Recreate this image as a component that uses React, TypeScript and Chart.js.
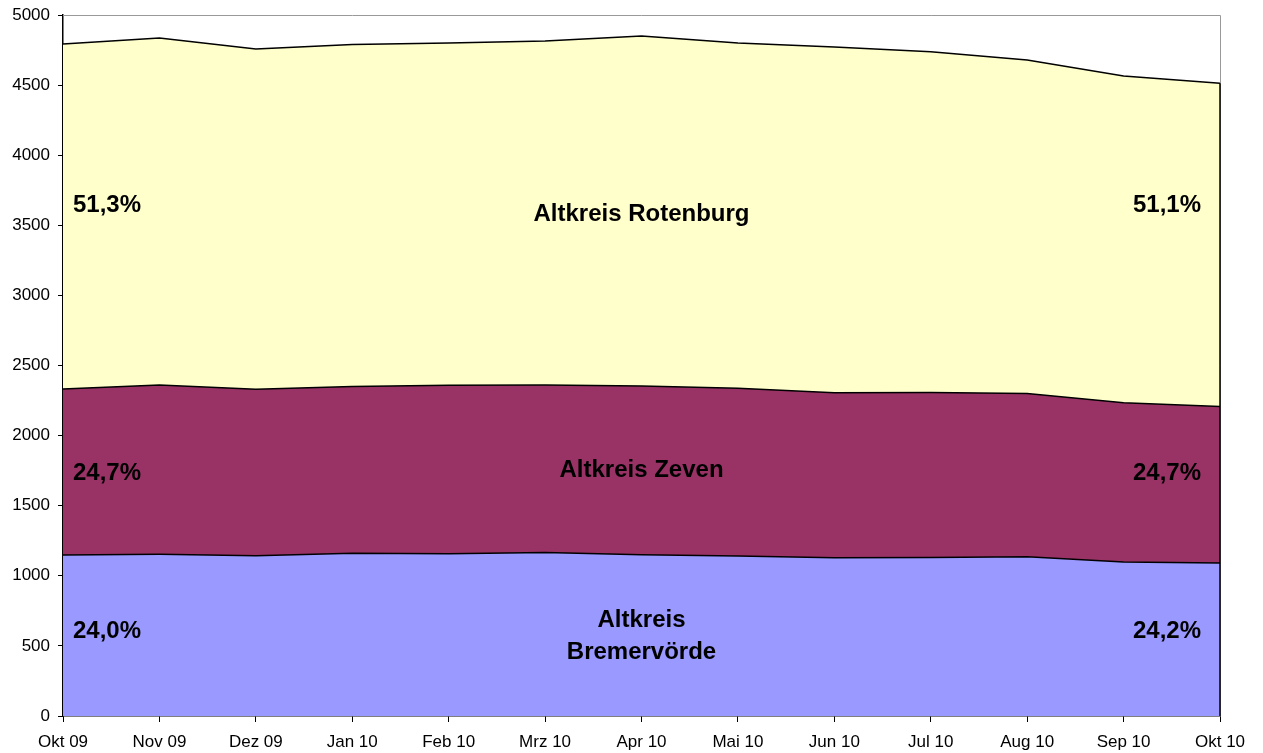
import React, { useEffect, useRef } from "react";
import { Chart, registerables } from "chart.js";

Chart.register(...registerables);

const categories = ["Okt 09", "Nov 09", "Dez 09", "Jan 10", "Feb 10", "Mrz 10", "Apr 10", "Mai 10", "Jun 10", "Jul 10", "Aug 10", "Sep 10", "Okt 10"];
const bremervoerde = [1148, 1153, 1143, 1160, 1158, 1167, 1150, 1141, 1128, 1130, 1136, 1098, 1092];
const zeven = [1184, 1208, 1187, 1190, 1202, 1194, 1204, 1196, 1178, 1178, 1164, 1137, 1115];
const rotenburg = [2461, 2475, 2427, 2440, 2440, 2454, 2496, 2463, 2466, 2429, 2379, 2330, 2306];
const seriesNames = ["Altkreis Bremervörde", "Altkreis Zeven", "Altkreis Rotenburg"];
const leftPct = ["24,0%", "24,7%", "51,3%"];
const rightPct = ["24,2%", "24,7%", "51,1%"];
const yTicks = [0, 500, 1000, 1500, 2000, 2500, 3000, 3500, 4000, 4500, 5000];

const FONT = '"Liberation Sans", Arial, sans-serif';

export default function App() {
  const ref = useRef<HTMLCanvasElement | null>(null);
  useEffect(() => {
    const canvas = ref.current;
    if (!canvas) return;

    const labelPlugin = {
      id: "labels",
      beforeDatasetsDraw(chart: any) {
        const { ctx, chartArea } = chart;
        ctx.save();
        ctx.strokeStyle = "#999999";
        ctx.lineWidth = 1;
        ctx.beginPath();
        ctx.moveTo(chartArea.left, chartArea.top + 0.5);
        ctx.lineTo(chartArea.right + 0.5, chartArea.top + 0.5);
        ctx.lineTo(chartArea.right + 0.5, chartArea.bottom);
        ctx.stroke();
        ctx.restore();
      },
      afterDatasetsDraw(chart: any) {
        const { ctx, chartArea, scales } = chart;
        const y = scales.y;
        const last = categories.length - 1;
        const totalLast = bremervoerde[last] + zeven[last] + rotenburg[last];
        ctx.save();
        ctx.strokeStyle = "#000";
        ctx.lineWidth = 1.5;
        ctx.beginPath();
        ctx.moveTo(chartArea.right, chartArea.bottom);
        ctx.lineTo(chartArea.right, y.getPixelForValue(totalLast));
        ctx.stroke();

        ctx.fillStyle = "#000";
        ctx.font = `bold 24px ${FONT}`;
        ctx.textBaseline = "middle";
        const leftX = chartArea.left + 10;
        const rightX = chartArea.right - 19;
        const rows = [631, 473, 205];
        for (let i = 0; i < 3; i++) {
          ctx.textAlign = "left";
          ctx.fillText(leftPct[i], leftX, rows[i]);
          ctx.textAlign = "right";
          ctx.fillText(rightPct[i], rightX, rows[i]);
        }
        const cx = (chartArea.left + chartArea.right) / 2;
        ctx.textAlign = "center";
        ctx.fillText(seriesNames[2], cx, 214);
        ctx.fillText(seriesNames[1], cx, 470);
        const parts = seriesNames[0].split(" ");
        ctx.fillText(parts[0], cx, 620);
        ctx.fillText(parts[1], cx, 652);
        ctx.restore();
      },
    };

    const chart = new Chart(canvas, {
      type: "line",
      data: {
        labels: categories,
        datasets: [
          { label: seriesNames[0], data: bremervoerde, backgroundColor: "#9999FF", borderColor: "#000", borderWidth: 1.5, fill: "origin", pointRadius: 0, tension: 0 },
          { label: seriesNames[1], data: zeven, backgroundColor: "#993366", borderColor: "#000", borderWidth: 1.5, fill: "-1", pointRadius: 0, tension: 0 },
          { label: seriesNames[2], data: rotenburg, backgroundColor: "#FFFFCC", borderColor: "#000", borderWidth: 1.5, fill: "-1", pointRadius: 0, tension: 0 },
        ],
      },
      options: {
        animation: false,
        responsive: false,
        layout: { padding: { top: 15, right: 43, left: 0, bottom: 0 } },
        plugins: { legend: { display: false }, tooltip: { enabled: false } },
        scales: {
          x: {
            type: "category",
            offset: false,
            z: 1,
            grid: { drawOnChartArea: false, drawTicks: true, tickLength: 6, color: "#000" },
            border: { display: true, color: "#000", width: 1.5 },
            ticks: { color: "#000", font: { family: FONT, size: 17 }, padding: 10, maxRotation: 0, autoSkip: false },
            afterFit: (s: any) => { s.height = 37; s.paddingLeft = 0; s.paddingRight = 0; },
          },
          y: {
            stacked: true,
            min: 0,
            max: 5000,
            z: 1,
            afterBuildTicks: (s: any) => { s.ticks = yTicks.map((v) => ({ value: v })); },
            grid: { drawOnChartArea: false, drawTicks: true, tickLength: 5, color: "#000" },
            border: { display: true, color: "#000", width: 1.5 },
            ticks: { color: "#000", font: { family: FONT, size: 17 }, padding: 8, callback: (v: any) => String(v) },
            afterFit: (s: any) => { s.width = 63; s.paddingTop = 0; s.paddingBottom = 0; },
          },
        },
      },
      plugins: [labelPlugin],
    });
    return () => chart.destroy();
  }, []);

  return (
    <div style={{ position: "absolute", left: 0, top: 0, width: 1263, height: 753, background: "#fff" }}>
      <canvas ref={ref} width={1263} height={753} />
    </div>
  );
}
